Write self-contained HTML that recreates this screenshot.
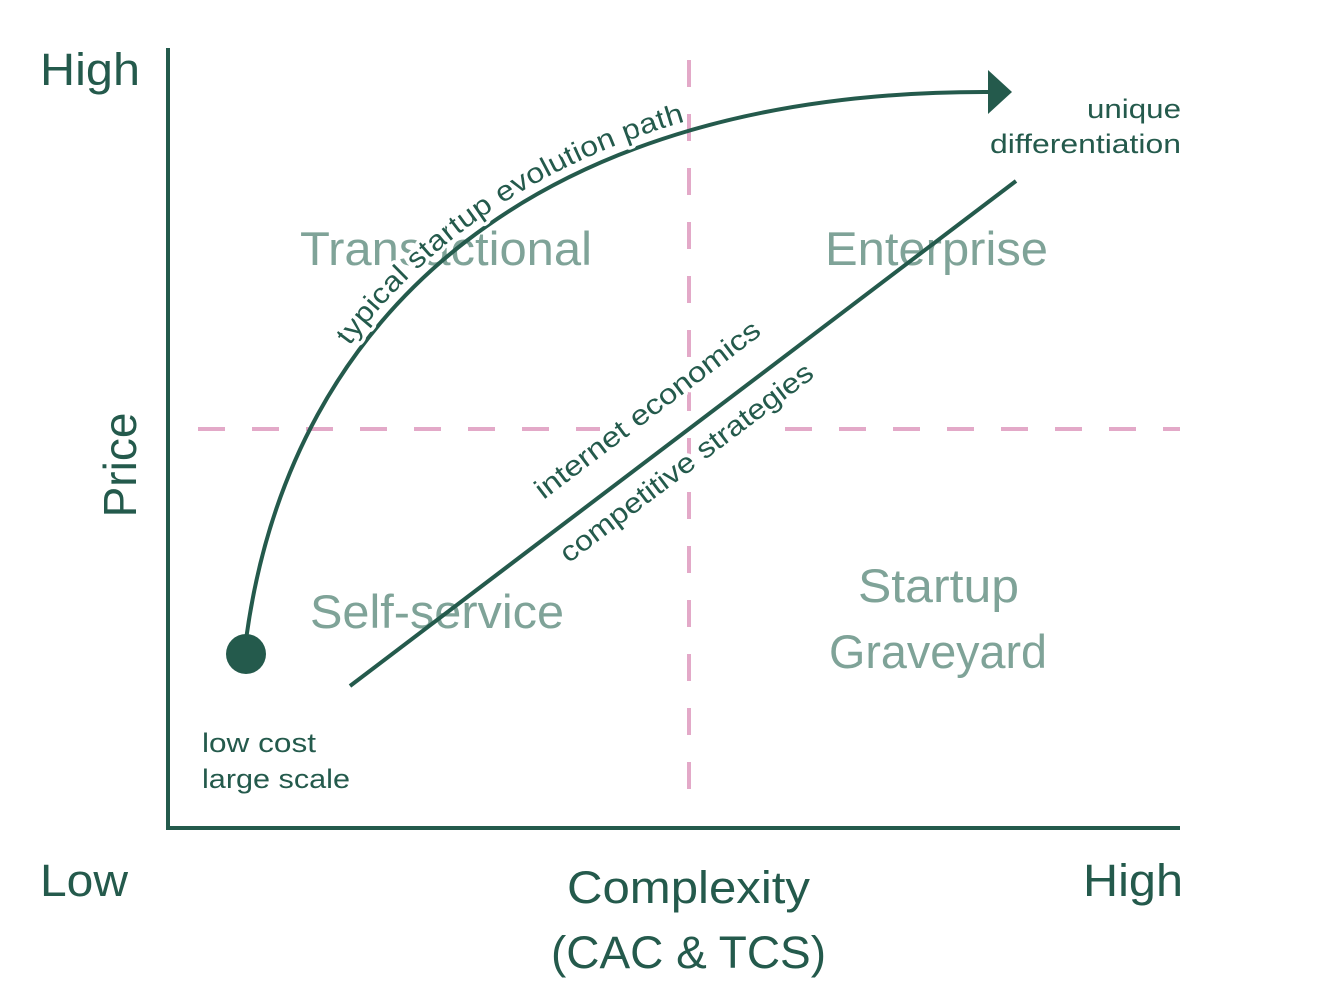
<!DOCTYPE html>
<html><head><meta charset="utf-8"><style>
html,body{margin:0;padding:0;background:#fff;}
svg{display:block;font-family:"Liberation Sans",sans-serif;}
</style></head><body>
<svg width="1330" height="1001" viewBox="0 0 1330 1001" xmlns="http://www.w3.org/2000/svg">
<g stroke="#e3a9c8" stroke-width="4" stroke-dasharray="27 27" fill="none">
<line x1="689" y1="60" x2="689" y2="800"/>
<line x1="198" y1="429" x2="600" y2="429"/>
<line x1="785" y1="429" x2="1180" y2="429"/>
</g>
<g fill="#7fa398" font-size="47">
<text x="300" y="265" textLength="292" lengthAdjust="spacingAndGlyphs">Transactional</text>
<text x="825" y="265" textLength="223" lengthAdjust="spacingAndGlyphs">Enterprise</text>
<text x="310" y="628" textLength="254" lengthAdjust="spacingAndGlyphs">Self-service</text>
<text x="858" y="602" textLength="161" lengthAdjust="spacingAndGlyphs">Startup</text>
<text x="829" y="668" textLength="218" lengthAdjust="spacingAndGlyphs">Graveyard</text>
</g>
<path d="M246,640 C 290,310 540,90 990,92" fill="none" stroke="#245a4c" stroke-width="4"/>
<path id="cv2" d="M246,640 C 290,310 540,90 990,92" fill="none"/>
<polygon points="988,70 1012,92 988,114" fill="#245a4c"/>
<circle cx="246" cy="654" r="20" fill="#245a4c"/>
<line x1="350" y1="686" x2="1016" y2="181" stroke="#245a4c" stroke-width="4"/>
<g fill="#245a4c" font-size="28" stroke="#fff" stroke-width="7" paint-order="stroke" stroke-linejoin="round">
<text dy="-10"><textPath href="#cv2" startOffset="312" textLength="405" lengthAdjust="spacingAndGlyphs">typical startup evolution path</textPath></text>
<text transform="translate(653,417) rotate(-37.2)" text-anchor="middle" textLength="275" lengthAdjust="spacingAndGlyphs">internet economics</text>
<text transform="translate(692,470) rotate(-37.2)" text-anchor="middle" textLength="310" lengthAdjust="spacingAndGlyphs">competitive strategies</text>
</g>
<g stroke="#245a4c" stroke-width="4" fill="none">
<line x1="168" y1="48" x2="168" y2="830"/>
<line x1="166" y1="828" x2="1180" y2="828"/>
</g>
<g fill="#245a4c">
<text x="40" y="85" font-size="45" textLength="100" lengthAdjust="spacingAndGlyphs">High</text>
<text transform="translate(136,465) rotate(-90)" text-anchor="middle" font-size="46">Price</text>
<text x="40" y="896" font-size="45" textLength="88" lengthAdjust="spacingAndGlyphs">Low</text>
<text x="1083" y="896" font-size="45" textLength="100" lengthAdjust="spacingAndGlyphs">High</text>
<text x="567" y="903" font-size="45" textLength="243" lengthAdjust="spacingAndGlyphs">Complexity</text>
<text x="551" y="968" font-size="45" textLength="275" lengthAdjust="spacingAndGlyphs">(CAC &amp; TCS)</text>
<text x="1087" y="118" font-size="27" textLength="94" lengthAdjust="spacingAndGlyphs">unique</text>
<text x="990" y="153" font-size="27" textLength="191" lengthAdjust="spacingAndGlyphs">differentiation</text>
<text x="202" y="752" font-size="27" textLength="114" lengthAdjust="spacingAndGlyphs">low cost</text>
<text x="202" y="788" font-size="27" textLength="148" lengthAdjust="spacingAndGlyphs">large scale</text>
</g>
</svg>
</body></html>
